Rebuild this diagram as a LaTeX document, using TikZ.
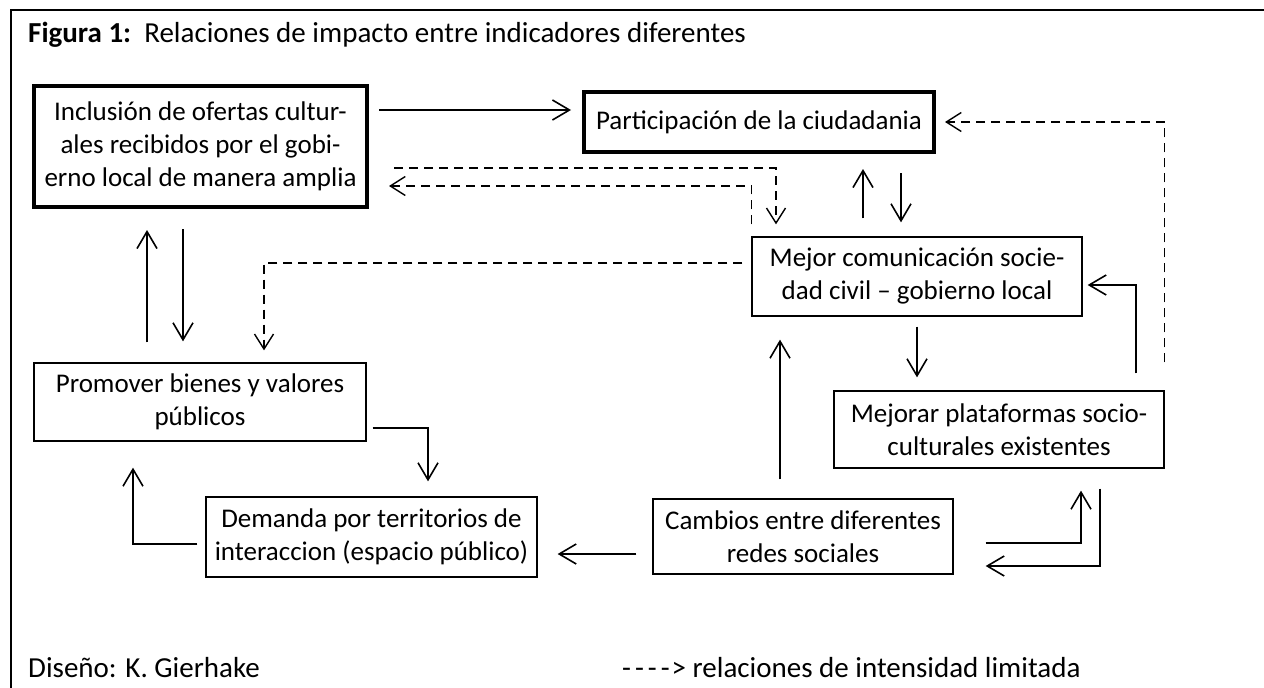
\documentclass[tikz,border=0pt]{standalone}
\usepackage{fontspec}
\setmainfont{Carlito}
\usetikzlibrary{arrows.meta}
\tikzstyle{block} = [rectangle, draw, line width=1.3pt, align=center, inner sep=0pt]
\tikzstyle{thickblock} = [block, line width=4pt]
\tikzstyle{caption} = [anchor=base west, inner sep=0pt, font=\fontsize{29}{35}\selectfont]
\tikzstyle{line} = [draw, line width=1.6pt, -{Straight Barb[length=17pt,width=20pt]}]
\tikzstyle{dline} = [draw, line width=1.4pt, dash pattern=on 9pt off 6pt,
    -{Straight Barb[length=15pt,width=19pt]}]

\begin{document}
\begin{tikzpicture}[x=1pt, y=-1pt, font=\fontsize{27}{33}\selectfont]
      \useasboundingbox (0,0) rectangle (1264,688);
      \draw [line width=2.4pt] (11,688) -- (11,10) -- (1264,10);
      \node [caption] (titulo) at (28,42)
        {\textbf{Figura 1:}\ \ Relaciones de impacto entre indicadores diferentes};
      \node [thickblock, minimum width=333, minimum height=121] (incl) at (200.5,146.5)
        {Inclusión de ofertas cultur-\\ales recibidos por el gobi-\\erno local de manera amplia};
      \node [thickblock, minimum width=350, minimum height=60] (part) at (759,122)
        {Participación de la ciudadania};
      \node [block, minimum width=330, minimum height=79] (comu) at (917,276.5)
        {Mejor comunicación socie-\\dad civil – gobierno local};
      \node [block, minimum width=330, minimum height=77] (plat) at (999,429.5)
        {Mejorar plataformas socio-\\culturales existentes};
      \node [block, minimum width=300, minimum height=75] (camb) at (803,536.5)
        {Cambios entre diferentes\\redes sociales};
      \node [block, minimum width=332, minimum height=78] (prom) at (200,402)
        {Promover bienes y valores\\públicos};
      \node [block, minimum width=331, minimum height=80] (dem) at (371.5,537)
        {Demanda por territorios de\\interaccion (espacio público)};
      \node [caption] (diseno) at (28,677) {Diseño: K. Gierhake};
      \node [caption] (leyenda) at (622,677)
        {-\kern4pt-\kern4pt-\kern4pt-\kern2pt> relaciones de intensidad limitada};
      % solid relations
      \path [line, shorten <=10pt, shorten >=11pt] (incl.east |- 0,110) -- (part.west |- 0,110);
      \path [line, shorten <=18pt, shorten >=15pt] (comu.north -| 863,0) -- (part.south -| 863,0);
      \path [line, shorten <=19pt, shorten >=14pt] (part.south -| 901,0) -- (comu.north -| 901,0);
      \path [line, shorten <=10pt, shorten >=13pt] (comu.south) -- (plat.north -| comu.south);
      \path [line, shorten <=17pt, shorten >=5pt] (plat.north -| 1136,0) |- (comu.east |- 0,285);
      \path [line, shorten <=19pt, shorten >=23pt] (camb.north -| 780,0) -- (comu.south -| 780,0);
      \path [line, shorten <=32pt, shorten >=22pt] (camb.east |- 0,543) -| (plat.south -| 1081,0);
      \path [line, shorten <=20pt, shorten >=32pt] (plat.south -| 1100,0) |- (camb.east |- 0,566);
      \path [line, shorten <=16pt, shorten >=20pt] (camb.west |- 0,554) -- (dem.east |- 0,554);
      \path [line, shorten <=8pt, shorten >=26pt] (dem.west |- 0,544) -| (prom.south -| 133,0);
      \path [line, shorten <=6pt, shorten >=15pt] (prom.east |- 0,428) -| (dem.north -| 428,0);
      \path [line, shorten <=20pt, shorten >=21pt] (prom.north -| 147,0) -- (incl.south -| 147,0);
      \path [line, shorten <=20pt, shorten >=21pt] (incl.south -| 183,0) -- (prom.north -| 183,0);
      % limited relations
      \path [dline, shorten >=20pt] ([yshift=12pt]comu.north west) |- (incl.east |- 0,186);
      \path [dline, shorten <=25pt, shorten >=12pt] (incl.east |- 0,168) -| (comu.north -| 776,0);
      \path [dline, shorten <=28pt, shorten >=9pt] (plat.north east) |- (part.east);
      \path [dline, shorten <=9pt, shorten >=12pt] (comu.west |- 0,263) -| (prom.north -| 264,0);
\end{tikzpicture}
\end{document}
